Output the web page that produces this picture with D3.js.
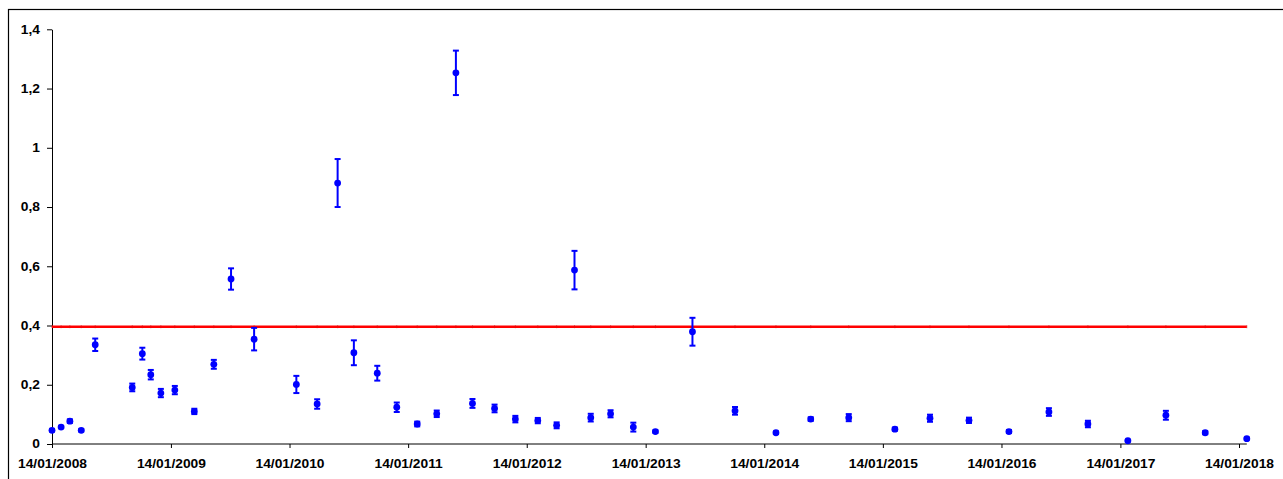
<!DOCTYPE html>
<html>
<head>
<meta charset="utf-8">
<script src="https://cdnjs.cloudflare.com/ajax/libs/d3/7.8.5/d3.min.js"></script>
<style>
    body { margin: 0; background: #fff; }
    .axis text { font-family: "Liberation Sans", Arial, sans-serif; font-weight: bold; font-size: 12px; fill: #000; }
</style>
</head>
<body>
<div id="chart"></div>
<script>
// Dimensions
const width = 1283;
const height = 479;

// Sample dates (dd/mm/yyyy)
const sampleDates = [
    "14/01/2008", "11/02/2008", "09/03/2008", "13/04/2008", "26/05/2008",
    "17/09/2008", "18/10/2008", "13/11/2008", "14/12/2008", "26/01/2009",
    "27/03/2009", "26/05/2009", "18/07/2009", "27/09/2009", "04/02/2010",
    "09/04/2010", "11/06/2010", "31/07/2010", "11/10/2010", "10/12/2010",
    "11/02/2011", "12/04/2011", "10/06/2011", "31/07/2011", "07/10/2011",
    "10/12/2011", "17/02/2012", "15/04/2012", "09/06/2012", "29/07/2012",
    "28/09/2012", "07/12/2012", "13/02/2013", "07/06/2013", "16/10/2013",
    "19/02/2014", "06/06/2014", "01/10/2014", "20/02/2015", "08/06/2015",
    "06/10/2015", "06/02/2016", "08/06/2016", "06/10/2016", "06/02/2017",
    "03/06/2017", "02/10/2017", "07/02/2018"
];

// Measured values
const sampleValues = [
    0.046, 0.057, 0.077, 0.046, 0.335,
    0.191, 0.305, 0.234, 0.172, 0.182,
    0.110, 0.269, 0.557, 0.354, 0.201,
    0.135, 0.881, 0.308, 0.239, 0.124,
    0.0675, 0.102, 1.253, 0.137, 0.120,
    0.084, 0.079, 0.063, 0.587, 0.089,
    0.102, 0.057, 0.042, 0.379, 0.112,
    0.038, 0.084, 0.089, 0.050, 0.087,
    0.080, 0.042, 0.108, 0.0675, 0.011,
    0.097, 0.038, 0.018
];

// Uncertainty (+/-)
const sampleErrors = [
    0.004, 0.004, 0.006, 0.004, 0.021,
    0.013, 0.020, 0.016, 0.014, 0.014,
    0.009, 0.015, 0.036, 0.038, 0.029,
    0.016, 0.081, 0.042, 0.025, 0.016,
    0.008, 0.011, 0.075, 0.015, 0.013,
    0.011, 0.009, 0.010, 0.065, 0.013,
    0.012, 0.015, 0.004, 0.047, 0.013,
    0.004, 0.006, 0.012, 0.005, 0.012,
    0.009, 0.005, 0.013, 0.011, 0.002,
    0.015, 0.005, 0.003
];

// Limit value (red line)
const limitValue = 0.396;

// Axis ticks
const yTicks = [0, 0.2, 0.4, 0.6, 0.8, 1, 1.2, 1.4];
const xTickLabels = [
    "14/01/2008", "14/01/2009", "14/01/2010", "14/01/2011", "14/01/2012", "14/01/2013",
    "14/01/2014", "14/01/2015", "14/01/2016", "14/01/2017", "14/01/2018"
];

const parseDate = d3.timeParse("%d/%m/%Y");
const formatDate = d3.timeFormat("%d/%m/%Y");
const commaFormat = d => String(d).replace(".", ",");

const data = sampleDates.map((d, i) => ({
    date: parseDate(d),
    value: sampleValues[i],
    err: sampleErrors[i]
}));

// Scales
const x = d3.scaleTime()
    .domain([parseDate(xTickLabels[0]), parseDate(xTickLabels[xTickLabels.length - 1])])
    .range([52, 1239]);

const y = d3.scaleLinear()
    .domain([0, 1.4])
    .range([444, 29.3]);

const svg = d3.select("#chart").append("svg")
    .attr("width", width)
    .attr("height", height);

// Chart area border (runs off the right and bottom of the picture)
svg.append("rect")
    .attr("x", 8.5)
    .attr("y", 9.5)
    .attr("width", 1400)
    .attr("height", 600)
    .attr("fill", "none")
    .attr("stroke", "#000")
    .attr("stroke-width", 1.2);

// Y axis
const yAxis = d3.axisLeft(y)
    .tickValues(yTicks)
    .tickSize(5)
    .tickSizeOuter(0)
    .tickFormat(commaFormat);

const gy = svg.append("g")
    .attr("class", "axis")
    .attr("transform", `translate(${x.range()[0]},0)`)
    .call(yAxis);
gy.selectAll("text")
    .attr("x", -10.4)
    .attr("transform", "scale(1.15,1)");

// X axis, the line runs on to the last sample
const lastDate = data[data.length - 1].date;
const xAxis = d3.axisBottom(x)
    .tickValues(xTickLabels.map(parseDate))
    .tickSize(4)
    .tickSizeOuter(0)
    .tickFormat(formatDate);

const gx = svg.append("g")
    .attr("class", "axis")
    .attr("transform", `translate(0,${y(0)})`)
    .call(xAxis);
gx.select(".domain")
    .attr("d", `M${x.range()[0]},0H${x(lastDate)}`);
gx.selectAll("text")
    .attr("y", 24.5)
    .attr("dy", 0)
    .attr("transform", "scale(1.15,1)");
svg.selectAll(".axis path, .axis line").attr("stroke", "#000");

// Limit line with its small markers
svg.append("line")
    .attr("x1", x(data[0].date))
    .attr("x2", x(lastDate))
    .attr("y1", y(limitValue))
    .attr("y2", y(limitValue))
    .attr("stroke", "#ff0000")
    .attr("stroke-width", 2.6);

svg.append("g")
    .selectAll("line")
    .data(data)
    .join("line")
    .attr("x1", d => x(d.date))
    .attr("x2", d => x(d.date))
    .attr("y1", y(limitValue) - 1.5)
    .attr("y2", y(limitValue) + 1.5)
    .attr("stroke", "#d81010")
    .attr("stroke-width", 1)
    .attr("opacity", 0.6);

// Error bars
const bars = svg.append("g")
    .attr("stroke", "#0000ff")
    .attr("stroke-width", 2);

bars.selectAll(".stem")
    .data(data)
    .join("line")
    .attr("class", "stem")
    .attr("x1", d => x(d.date))
    .attr("x2", d => x(d.date))
    .attr("y1", d => y(d.value + d.err))
    .attr("y2", d => y(d.value - d.err));

bars.selectAll(".cap")
    .data(data.flatMap(d => [
        {date: d.date, v: d.value + d.err},
        {date: d.date, v: d.value - d.err}
    ]))
    .join("line")
    .attr("class", "cap")
    .attr("x1", d => x(d.date) - 3)
    .attr("x2", d => x(d.date) + 3)
    .attr("y1", d => y(d.v))
    .attr("y2", d => y(d.v));

// Points
svg.append("g")
    .selectAll("circle")
    .data(data)
    .join("circle")
    .attr("cx", d => x(d.date))
    .attr("cy", d => y(d.value))
    .attr("r", 3.4)
    .attr("fill", "#0000ff");
</script>
</body>
</html>
